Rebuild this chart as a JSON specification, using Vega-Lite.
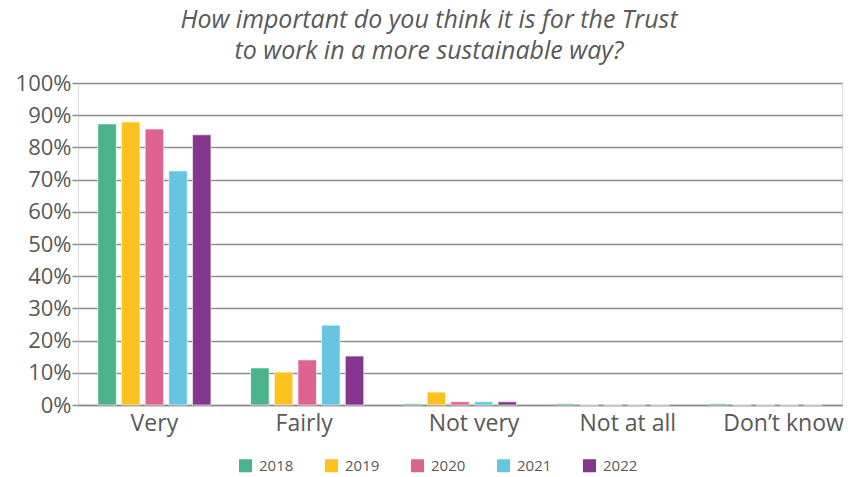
{
  "$schema": "https://vega.github.io/schema/vega-lite/v6.json",
  "autosize": {"type": "none"},
  "width": 764,
  "height": 322,
  "padding": {"left": 78, "top": 83, "right": 6, "bottom": 72},
  "background": "white",
  "title": {
    "text": ["How important do you think it is for the Trust", "to work in a more sustainable way?"],
    "font": "Open Sans",
    "fontSize": 25,
    "fontStyle": "italic",
    "fontWeight": "normal",
    "color": "#595959",
    "lineHeight": 31,
    "anchor": "middle",
    "dx": -31,
    "offset": 8
  },
  "data": {
    "values": [
      {"answer": "Very", "year": "2018", "value": 87.3},
      {"answer": "Very", "year": "2019", "value": 87.9},
      {"answer": "Very", "year": "2020", "value": 85.7},
      {"answer": "Very", "year": "2021", "value": 72.7},
      {"answer": "Very", "year": "2022", "value": 83.9},
      {"answer": "Fairly", "year": "2018", "value": 11.5},
      {"answer": "Fairly", "year": "2019", "value": 10.2},
      {"answer": "Fairly", "year": "2020", "value": 14.0},
      {"answer": "Fairly", "year": "2021", "value": 24.8},
      {"answer": "Fairly", "year": "2022", "value": 15.2},
      {"answer": "Not very", "year": "2018", "value": 0.4},
      {"answer": "Not very", "year": "2019", "value": 4.0},
      {"answer": "Not very", "year": "2020", "value": 1.0},
      {"answer": "Not very", "year": "2021", "value": 1.0},
      {"answer": "Not very", "year": "2022", "value": 1.0},
      {"answer": "Not at all", "year": "2018", "value": 0.4},
      {"answer": "Not at all", "year": "2019", "value": 0},
      {"answer": "Not at all", "year": "2020", "value": 0},
      {"answer": "Not at all", "year": "2021", "value": 0},
      {"answer": "Not at all", "year": "2022", "value": 0},
      {"answer": "Don’t know", "year": "2018", "value": 0.4},
      {"answer": "Don’t know", "year": "2019", "value": 0},
      {"answer": "Don’t know", "year": "2020", "value": 0},
      {"answer": "Don’t know", "year": "2021", "value": 0},
      {"answer": "Don’t know", "year": "2022", "value": 0}
    ]
  },
  "mark": {"type": "bar", "stroke": "white", "strokeOpacity": 0.6, "strokeWidth": 1},
  "encoding": {
    "x": {
      "field": "answer",
      "type": "nominal",
      "sort": ["Very", "Fairly", "Not very", "Not at all", "Don’t know"],
      "scale": {"paddingInner": 0.26, "paddingOuter": 0.13},
      "axis": {
        "title": null,
        "labelAngle": 0,
        "labelFont": "Open Sans",
        "labelFontSize": 23,
        "labelColor": "#595959",
        "labelPadding": 7,
        "labelOffset": {
          "condition": [
            {"test": "datum.value === 'Fairly'", "value": -3},
            {"test": "datum.value === 'Not very'", "value": 14},
            {"test": "datum.value === 'Not at all'", "value": 15},
            {"test": "datum.value === 'Don’t know'", "value": 18}
          ],
          "value": 0
        },
        "ticks": false,
        "domainColor": "#8c8c8c",
        "domainWidth": 1.5
      }
    },
    "xOffset": {
      "field": "year",
      "type": "nominal",
      "scale": {"paddingInner": 0.22}
    },
    "y": {
      "field": "value",
      "type": "quantitative",
      "scale": {"domain": [0, 100]},
      "axis": {
        "title": null,
        "values": [0, 10, 20, 30, 40, 50, 60, 70, 80, 90, 100],
        "labelExpr": "datum.value + '%'",
        "labelFont": "Open Sans",
        "labelFontSize": 22,
        "labelColor": "#595959",
        "labelPadding": 1,
        "domain": false,
        "tickColor": "#8c8c8c",
        "tickSize": 6,
        "tickWidth": 1.5,
        "grid": true,
        "gridColor": "#8c8c8c",
        "gridWidth": 1.5
      }
    },
    "color": {
      "field": "year",
      "type": "nominal",
      "scale": {
        "domain": ["2018", "2019", "2020", "2021", "2022"],
        "range": ["#4BB38C", "#FDC21F", "#DD6490", "#66C5E1", "#84358D"]
      },
      "legend": {
        "title": null,
        "orient": "none",
        "legendX": 160,
        "legendY": 375,
        "direction": "horizontal",
        "symbolType": "square",
        "symbolSize": 170,
        "symbolStrokeWidth": 0,
        "symbolOffset": 0,
        "labelOffset": 6,
        "labelFont": "Open Sans",
        "labelFontSize": 15,
        "labelColor": "#595959",
        "columnPadding": 30,
        "padding": 0
      }
    }
  }
}
